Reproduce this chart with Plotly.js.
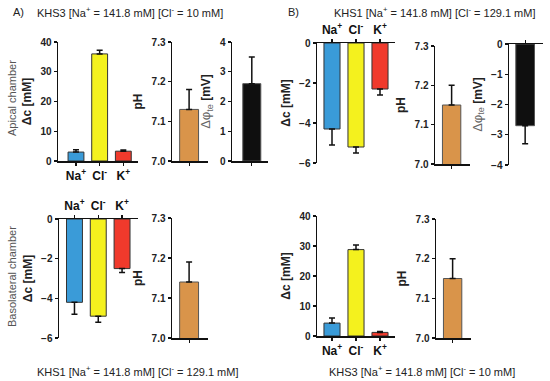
<!DOCTYPE html>
<html>
<head>
<meta charset="utf-8">
<script src="https://cdn.plot.ly/plotly-3.0.1.min.js"></script>
<style>html,body{margin:0;padding:0;background:#fff;}#chart{width:550px;height:381px;}</style>
</head>
<body>
<div id="chart"></div>
<script>
// ---- data ----
const ions = ['Na<sup>+</sup>', 'Cl<sup>-</sup>', 'K<sup>+</sup>'];
const ionColors = ['#3a9bd8', '#f4f11e', '#f03a2c'];
const pHColor = '#d9944a';
const phiColor = '#0f0f0f';

// Panel A: apical KHS3, basolateral KHS1
const A_apical_dc = [3.0, 36.0, 3.3];
const A_apical_dc_err = [0.8, 1.2, 0.4];
const A_apical_pH = [7.13];
const A_apical_pH_err = [0.05];
const A_apical_phi = [2.6];
const A_apical_phi_err = [0.9];
const A_baso_dc = [-4.2, -4.9, -2.5];
const A_baso_dc_err = [0.6, 0.3, 0.2];
const A_baso_pH = [7.14];
const A_baso_pH_err = [0.05];

// Panel B: apical KHS1, basolateral KHS3
const B_apical_dc = [-4.3, -5.2, -2.3];
const B_apical_dc_err = [0.8, 0.3, 0.3];
const B_apical_pH = [7.15];
const B_apical_pH_err = [0.05];
const B_apical_phi = [-2.7];
const B_apical_phi_err = [0.6];
const B_baso_dc = [4.3, 28.8, 1.2];
const B_baso_dc_err = [1.7, 1.5, 0.3];
const B_baso_pH = [7.15];
const B_baso_pH_err = [0.05];

// ---- helpers ----
const W = 550, H = 381;
const FONT = 'Liberation Sans, Arial, sans-serif';
const traces = [];
const layout = {
  width: W, height: H, autosize: false,
  margin: {l: 0, r: 0, t: 0, b: 0},
  paper_bgcolor: '#fff', plot_bgcolor: 'rgba(0,0,0,0)',
  showlegend: false,
  font: {family: FONT, size: 11, color: '#1a1a1a'},
  bargap: 0,
  annotations: []
};

function errBar(vals, errs) {
  const up = vals.map((v, i) => v >= 0 ? errs[i] : 0);
  const dn = vals.map((v, i) => v < 0 ? errs[i] : 0);
  return {type: 'data', symmetric: false, array: up, arrayminus: dn,
          color: '#111', thickness: 1.5, width: 3};
}

// px: [x0, x1] pixel extent of x axis, py: [ytop, ybottom] pixel extent
function panel(n, px, py, xcfg, ycfg, trace) {
  const xs = n === 1 ? '' : String(n);
  const xa = 'xaxis' + xs, ya = 'yaxis' + xs;
  layout[xa] = Object.assign({
    domain: [px[0] / W, px[1] / W], anchor: 'y' + xs,
    showline: true, linecolor: '#111', linewidth: 1.5,
    ticks: 'outside', ticklen: 3, tickwidth: 1.2, tickcolor: '#111',
    showgrid: false, zeroline: false, fixedrange: true,
    tickfont: {family: FONT, size: 12, color: '#111', weight: 'bold'}
  }, xcfg);
  layout[ya] = Object.assign({
    domain: [(H - py[1]) / H, (H - py[0]) / H], anchor: 'x' + xs,
    showline: true, linecolor: '#111', linewidth: 1.5,
    ticks: 'outside', ticklen: 3, tickwidth: 1.2, tickcolor: '#111',
    showgrid: false, zeroline: false, fixedrange: true,
    tickfont: {family: FONT, size: 10, color: '#222', weight: 'bold'}
  }, ycfg);
  trace.xaxis = 'x' + xs; trace.yaxis = 'y' + xs;
  trace.type = 'bar';
  trace.hoverinfo = 'none';
  traces.push(trace);
}

const dcTitle = {text: 'Δc [mM]', font: {family: FONT, size: 12, color: '#222', weight: 'bold'}, standoff: 6};
const pHTitle = {text: 'pH', font: {family: FONT, size: 12, color: '#222', weight: 'bold'}, standoff: 6};
const phiTitle = {text: '<span style="font-weight:normal;color:#666;font-size:13px">Δφ<sub>te</sub></span> [mV]',
                  font: {family: FONT, size: 12, color: '#222', weight: 'bold'}, standoff: 6};

function ionBar(vals, errs) {
  return {x: ions, y: vals, width: 0.67,
          marker: {color: ionColors, line: {color: '#333', width: 1}},
          error_y: errBar(vals, errs)};
}
function single(vals, errs, color, w) {
  return {x: [0], y: vals, width: w,
          marker: {color: color, line: {color: '#555', width: 1}},
          error_y: errBar(vals.map(v => v >= 7 ? 1 : v), errs)};
}

// ---- A top: apical ----
panel(1, [58, 138], [42, 161],
  {type: 'category', range: [-0.76, 2.62], side: 'bottom'},
  {range: [0, 40], dtick: 10, title: dcTitle},
  ionBar(A_apical_dc, A_apical_dc_err));
panel(2, [172, 208], [42, 161],
  {range: [-0.95, 1.05], tickvals: [0], showticklabels: false},
  {range: [7.0, 7.3], dtick: 0.1, tickformat: '.1f', title: pHTitle},
  single(A_apical_pH, A_apical_pH_err, pHColor, 1.05));
panel(3, [232, 268], [42, 161],
  {range: [-1.1, 0.9], tickvals: [0], showticklabels: false},
  {range: [0, 4], dtick: 1, title: phiTitle},
  single(A_apical_phi, A_apical_phi_err, phiColor, 1.0));

// ---- B top: apical ----
panel(4, [317, 395], [43, 163],
  {type: 'category', range: [-0.625, 2.625], side: 'top'},
  {range: [-6, 0], dtick: 2, title: dcTitle},
  ionBar(B_apical_dc, B_apical_dc_err));
panel(5, [435, 470], [46, 164],
  {range: [-0.95, 1.05], tickvals: [0], showticklabels: false},
  {range: [7.0, 7.3], dtick: 0.1, tickformat: '.1f', title: pHTitle},
  single(B_apical_pH, B_apical_pH_err, pHColor, 1.05));
panel(6, [509, 543], [44, 165],
  {range: [-0.95, 1.05], tickvals: [0], showticklabels: false, side: 'top'},
  {range: [-4, 0], dtick: 1, title: phiTitle},
  single(B_apical_phi, B_apical_phi_err, phiColor, 1.1));

// ---- A bottom: basolateral ----
panel(7, [59, 138], [219, 338],
  {type: 'category', range: [-0.65, 2.67], side: 'top'},
  {range: [-6, 0], dtick: 2, title: dcTitle},
  ionBar(A_baso_dc, A_baso_dc_err));
panel(8, [172, 208], [218, 338],
  {range: [-0.95, 1.05], tickvals: [0], showticklabels: false},
  {range: [7.0, 7.3], dtick: 0.1, tickformat: '.1f', title: pHTitle},
  single(A_baso_pH, A_baso_pH_err, pHColor, 1.05));

// ---- B bottom: basolateral ----
panel(9, [317, 395], [216, 336],
  {type: 'category', range: [-0.625, 2.625], side: 'bottom'},
  {range: [0, 40], dtick: 10, title: dcTitle},
  ionBar(B_baso_dc, B_baso_dc_err));
panel(10, [436, 471], [219, 338],
  {range: [-0.95, 1.05], tickvals: [0], showticklabels: false},
  {range: [7.0, 7.3], dtick: 0.1, tickformat: '.1f', title: pHTitle},
  single(B_baso_pH, B_baso_pH_err, pHColor, 1.05));

// ---- text annotations ----
function note(text, x, y, opts) {
  layout.annotations.push(Object.assign({
    text: text, x: x / W, y: (H - y) / H, xref: 'paper', yref: 'paper',
    showarrow: false, xanchor: 'left', yanchor: 'middle',
    font: {family: FONT, size: 11, color: '#222'}
  }, opts || {}));
}
const khs3 = 'KHS3 [Na<sup>+</sup> = 141.8 mM] [Cl<sup>-</sup> = 10 mM]';
const khs1 = 'KHS1 [Na<sup>+</sup> = 141.8 mM] [Cl<sup>-</sup> = 129.1 mM]';
note('A)', 11, 12);
note(khs3, 35, 12);
note('B)', 286, 12);
note(khs1, 332, 12);
note(khs1, 138, 371, {xanchor: 'center'});
note(khs3, 422, 371, {xanchor: 'center'});
note('Apical chamber', 12, 98, {xanchor: 'center', textangle: -90, font: {family: FONT, size: 11, color: '#555'}});
note('Basolateral chamber', 12, 277, {xanchor: 'center', textangle: -90, font: {family: FONT, size: 11, color: '#555'}});

Plotly.newPlot('chart', traces, layout, {staticPlot: true, displayModeBar: false});
</script>
</body>
</html>
